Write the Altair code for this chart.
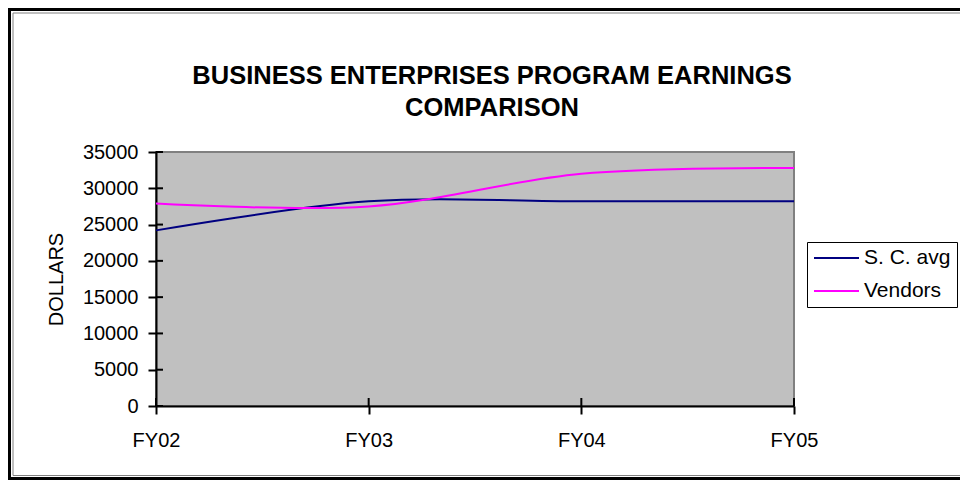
import altair as alt
import pandas as pd

# ---- data ----
years = ["FY02", "FY03", "FY04", "FY05"]
sc_avg = [24200, 28200, 28200, 28200]
vendors = [27900, 27500, 32000, 32800]
series_names = ["S. C. avg", "Vendors"]
series_colors = ["#000080", "#FF00FF"]
y_ticks = [0, 5000, 10000, 15000, 20000, 25000, 30000, 35000]
title_lines = ["BUSINESS ENTERPRISES PROGRAM EARNINGS", "COMPARISON"]
y_title = "DOLLARS"

rows = []
for i, yr in enumerate(years):
    rows.append({"year": yr, "series": series_names[0], "value": sc_avg[i]})
    rows.append({"year": yr, "series": series_names[1], "value": vendors[i]})
df = pd.DataFrame(rows)
tick_df = pd.DataFrame({"value": y_ticks})
year_df = pd.DataFrame({"year": years})
frame_df = pd.DataFrame({"k": [0]})

W, H = 638, 254
FONT = "Liberation Sans"

x_scale = alt.Scale(type="point", domain=years, padding=0)
y_scale = alt.Scale(domain=[0, 35000], nice=False, zero=True)
x_axis = alt.Axis(title=None, labelAngle=0, labelPadding=16)
y_axis = alt.Axis(values=y_ticks, format="d", title=y_title, labelPadding=10,
                  titlePadding=16)

lines = alt.Chart(df).mark_line(interpolate="cardinal", strokeWidth=2).encode(
    x=alt.X("year:N", scale=x_scale, sort=years, axis=x_axis),
    y=alt.Y("value:Q", scale=y_scale, axis=y_axis),
    color=alt.Color("series:N",
                    scale=alt.Scale(domain=series_names, range=series_colors),
                    legend=alt.Legend(orient="none", legendX=651, legendY=90,
                                      title=None, symbolType="stroke",
                                      symbolSize=2025, symbolStrokeWidth=2,
                                      labelFont=FONT, labelFontSize=21,
                                      labelColor="black", labelOffset=4,
                                      padding=6, rowPadding=12, clipHeight=20,
                                      fillColor="white", strokeColor="black")),
)

# inner half of Excel's cross ticks
y_inner = alt.Chart(tick_df).mark_rule(color="black", strokeWidth=2).encode(
    y=alt.Y("value:Q", scale=y_scale, axis=y_axis),
    x=alt.value(0), x2=alt.value(7),
)
x_inner = alt.Chart(year_df).mark_rule(color="black", strokeWidth=2).encode(
    x=alt.X("year:N", scale=x_scale, sort=years, axis=x_axis),
    y=alt.value(H), y2=alt.value(H - 8),
)

# outer double frame (black line + thin gray line), right side runs off-page
frame_gray = alt.Chart(frame_df).mark_rect(filled=False, stroke="#808080",
                                           strokeWidth=1).encode(
    x=alt.value(-143), x2=alt.value(820),
    y=alt.value(-139), y2=alt.value(323.5),
)
frame = alt.Chart(frame_df).mark_rect(filled=False, stroke="black",
                                      strokeWidth=3).encode(
    x=alt.value(-146.5), x2=alt.value(825),
    y=alt.value(-142.5), y2=alt.value(326.5),
)

chart = alt.layer(lines, y_inner, x_inner, frame_gray, frame).properties(
    width=W, height=H,
    background="white",
    autosize=alt.AutoSizeParams(type="none"),
    padding={"left": 148, "top": 144, "right": 166, "bottom": 74},
    title=alt.TitleParams(text=title_lines, font=FONT, fontSize=25.5,
                          fontWeight="bold", color="black", anchor="middle",
                          frame="group", dx=17, dy=135, offset=22,
                          lineHeight=32),
).configure_view(
    fill="#C0C0C0", stroke="#808080", strokeWidth=2
).configure_axis(
    domainColor="black", domainWidth=2, tickColor="black", tickWidth=2,
    tickSize=8, grid=False, labelFont=FONT, labelFontSize=20,
    labelColor="black", titleFont=FONT, titleFontSize=20,
    titleFontWeight="normal", titleColor="black",
)

chart.save("out.html", embed_options={"renderer": "svg", "actions": False})
